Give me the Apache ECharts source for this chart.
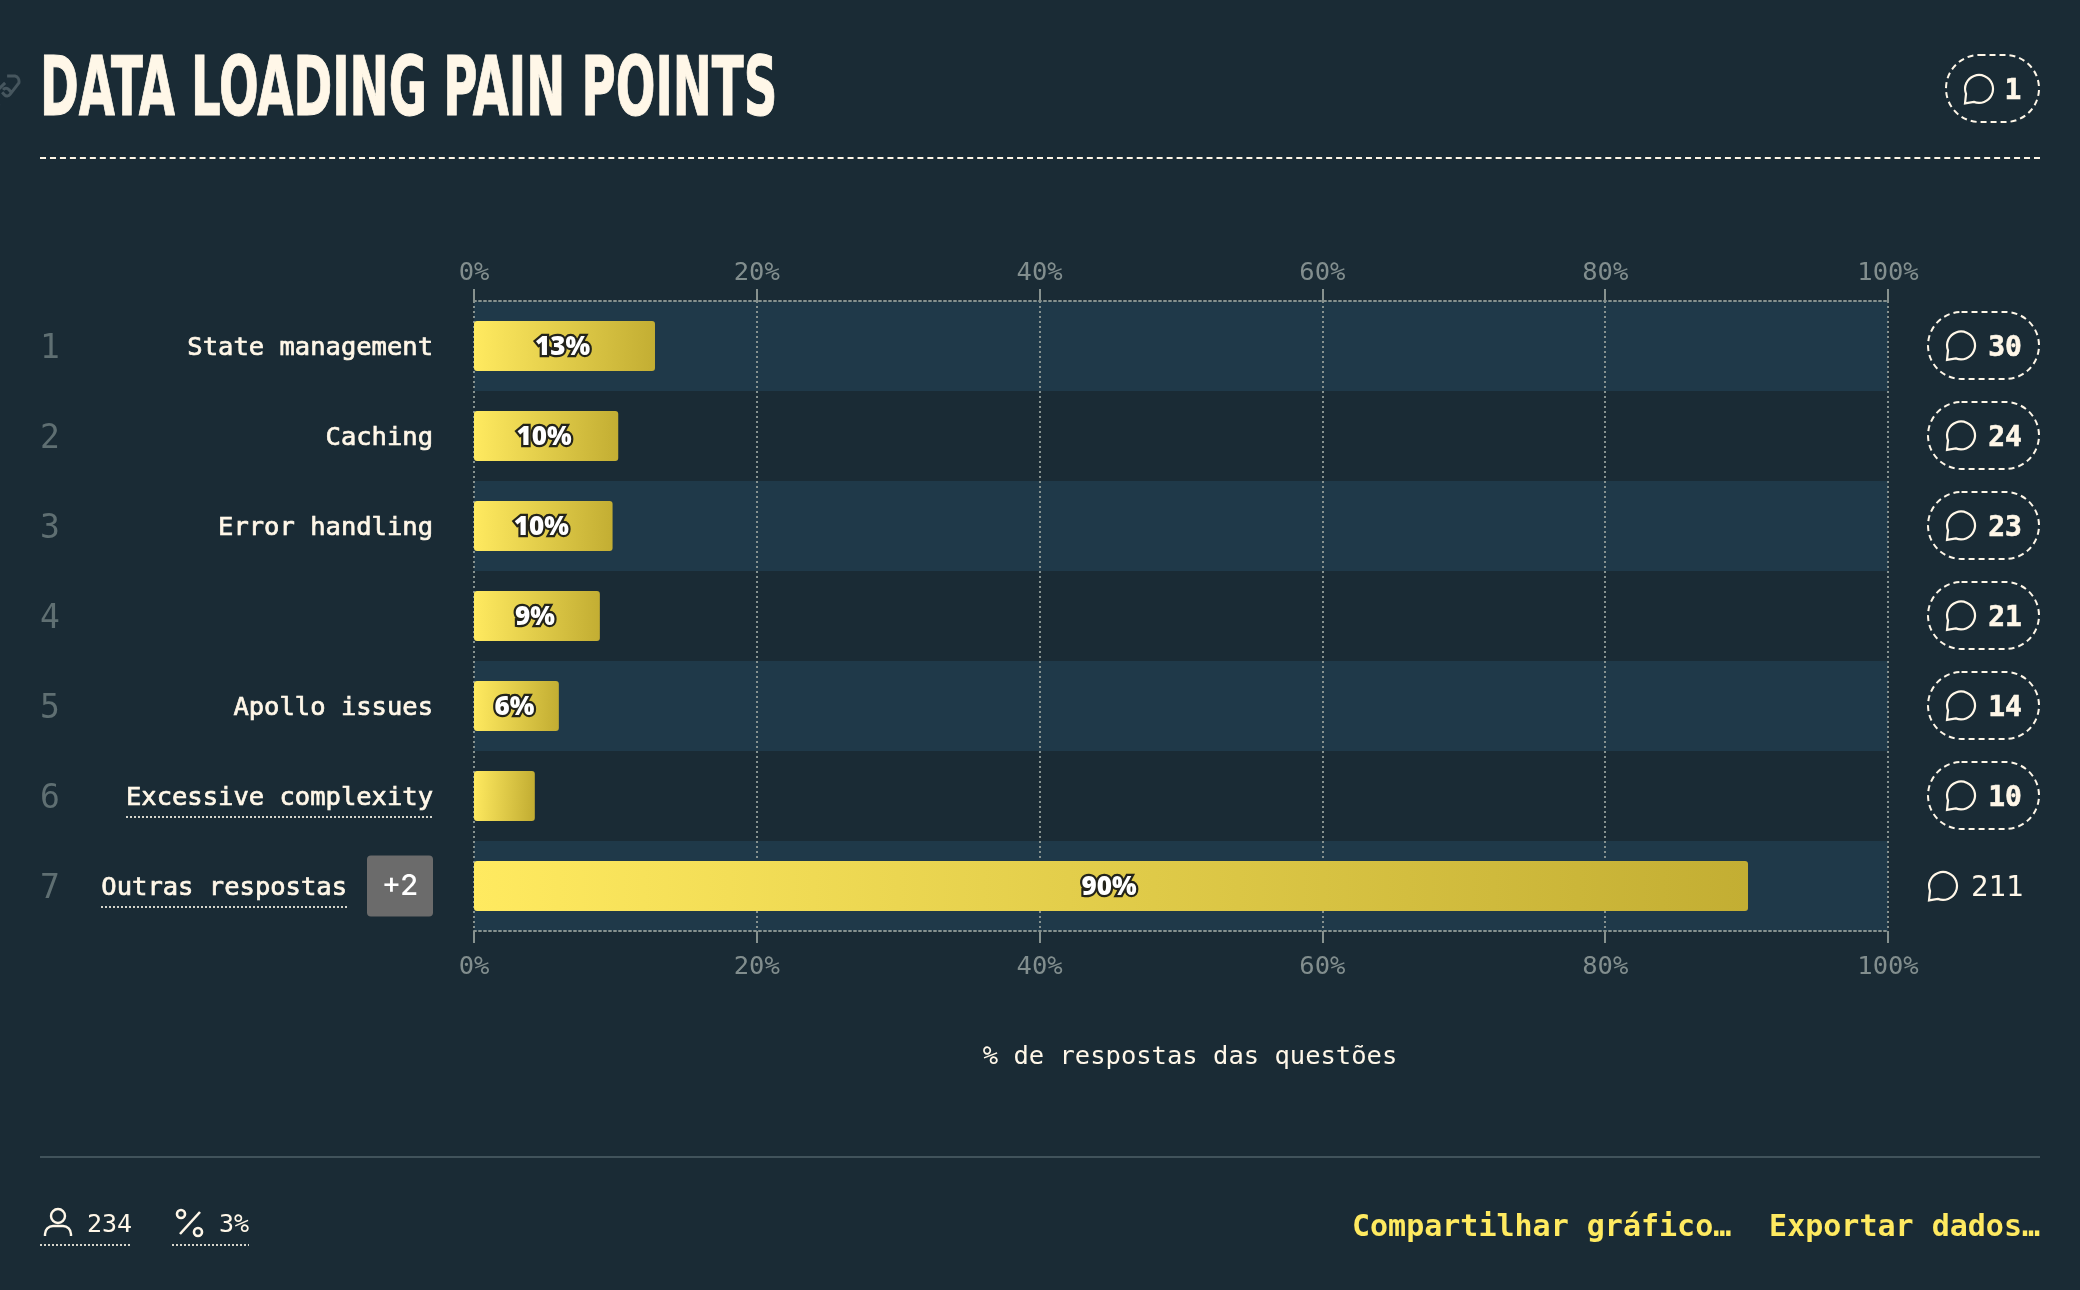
<!DOCTYPE html>
<html><head><meta charset="utf-8">
<style>html,body{margin:0;padding:0;background:#1a2b35}#c{width:2080px;height:1290px}</style>
<script src="https://cdn.jsdelivr.net/npm/echarts@6/dist/echarts.min.js"></script>
</head><body><div id="c"></div>
<script>
const chartTitle = 'DATA LOADING PAIN POINTS';
const categories = ['State management','Caching','Error handling','','Apollo issues','Excessive complexity','Outras respostas'];
const ranks = ['1','2','3','4','5','6','7'];
const shareValues = [12.8,10.2,9.8,8.9,6.0,4.3,90.1];
const barLabels = ['13%','10%','10%','9%','6%','','90%'];
const commentCounts = [30,24,23,21,14,10,211];
const badges = ['','','','','','','+2'];
const axisName = '% de respostas das questões';
const headerComments = '1';
const respondents = '234';
const respondentShare = '3%';
const footerActions = ['Compartilhar gráfico…','Exportar dados…'];

const BG='#1a2b35', BAND='#1f3949', CREAM='#fff7e8', GRAY='#87928f', YEL='#ffea60';
const MONO='"DejaVu Sans Mono"', SANS='"Inter"';
const BUBBLE='M-12.6 5 A13.6 13.6 0 1 1 -5 12.7 L-13.6 14.2 Z';

function bubble(cx,cy){return {type:'path',shape:{pathData:BUBBLE,x:cx-14,y:cy-14,width:28,height:28.4,layout:'cover'},style:{fill:'none',stroke:CREAM,lineWidth:2.2}};}
function txt(text,x,y,font,fill,align,extra){return {type:'text',style:Object.assign({text,x,y,font,fill,align:align||'center',verticalAlign:'middle'},extra||{})};}

const axisBase={type:'value',min:0,max:100,interval:20,
  axisLine:{show:true,lineStyle:{color:GRAY,width:2,type:[2,3]}},
  axisTick:{show:true,length:12,lineStyle:{color:GRAY,width:2}},
  axisLabel:{formatter:'{value}%',color:'#828e8e',fontFamily:MONO,fontSize:25.5}
};

const option={
  backgroundColor:BG,animation:false,
  grid:{left:474,right:192,top:301,bottom:359,containLabel:false},
  xAxis:[
    Object.assign({},axisBase,{position:'top',axisLabel:Object.assign({},axisBase.axisLabel,{margin:15}),
      splitLine:{show:true,lineStyle:{color:GRAY,width:2,type:[2,3]}}}),
    Object.assign({},axisBase,{position:'bottom',axisLabel:Object.assign({},axisBase.axisLabel,{margin:23}),
      splitLine:{show:false},name:axisName,nameLocation:'middle',nameGap:113,
      nameTextStyle:{color:CREAM,fontFamily:MONO,fontSize:25.5,padding:[0,0,0,18]}})
  ],
  yAxis:[
    {type:'category',inverse:true,data:categories,
      axisLine:{show:false},axisTick:{show:false},
      splitArea:{show:true,areaStyle:{color:[BAND,'rgba(0,0,0,0)']}},
      axisLabel:{margin:41,interval:0,color:CREAM,
        formatter:(v,i)=>badges[i]?`{name|${v}}{gap|}{badge|${badges[i]}}`:`{name|${v}}`,
        rich:{name:{color:CREAM,fontFamily:MONO,fontSize:25.5,fontWeight:500,textBorderColor:CREAM,textBorderWidth:0.7,padding:[5,0,0,0]},
          gap:{width:20},
          badge:{width:66,height:61,lineHeight:61,align:'center',backgroundColor:'#6b6b6b',borderRadius:4,color:'#fff',fontFamily:SANS,fontSize:29,fontWeight:500}}}},
    {type:'category',inverse:true,data:ranks,position:'left',
      axisLine:{show:false},axisTick:{show:false},
      axisLabel:{margin:434,align:'left',interval:0,formatter:v=>`{r|${v}}`,
        rich:{r:{color:'#5f6f72',fontFamily:MONO,fontSize:33,padding:[7,0,0,0]}}}}
  ],
  series:[
    {type:'bar',name:'share',xAxisIndex:0,yAxisIndex:0,barWidth:50,data:shareValues,
      itemStyle:{borderRadius:3,color:{type:'linear',x:0,y:0,x2:1,y2:0.06,colorStops:[{offset:0,color:'#ffea60'},{offset:1,color:'#c3ae33'}]}},
      label:{show:true,position:'inside',offset:[-2,1.5],formatter:p=>barLabels[p.dataIndex],color:'#fff',fontFamily:'"Open Sans"',fontWeight:800,fontSize:26,textBorderColor:'#23231a',textBorderWidth:4.5}},
    {type:'custom',name:'comments',xAxisIndex:0,yAxisIndex:0,silent:true,clip:false,
      data:commentCounts.map((c,i)=>[c,i]),
      renderItem:(params,api)=>{
        const i=api.value(1), y=api.coord([0,i])[1], c=api.value(0), kids=[];
        if(i<6){
          kids.push({type:'rect',shape:{x:1928,y:y-34,width:111,height:67,r:33.5},style:{fill:'none',stroke:CREAM,lineWidth:2,lineDash:[6,4]}});
          kids.push(bubble(1961,y-0.5));
          kids.push(txt(String(c),2005,y+3,'700 28px '+MONO,CREAM,'center',{stroke:CREAM,lineWidth:0.6}));
        }else{
          kids.push(bubble(1943,y));
          kids.push(txt(String(c),1971,y+2,'400 29px '+MONO,CREAM,'left'));
        }
        const line=(a,b,yy)=>({type:'line',shape:{x1:a,y1:yy,x2:b,y2:yy},style:{stroke:'#d5d5cc',lineWidth:2,lineDash:[2,2]}});
        if(i===5)kids.push(line(126,433,y+21));
        if(i===6)kids.push(line(101,347,y+21));
        return {type:'group',children:kids};
      }},
    {type:'custom',name:'decor',xAxisIndex:0,yAxisIndex:0,silent:true,clip:false,data:[[0,0]],
      renderItem:()=>({type:'group',children:[
        bubble(1979,89),
        {type:'path',shape:{pathData:'M-2 104 L-7 99 A4 4 0 0 1 -7 93 L4 84 M2 90 A4 4 0 0 1 8 90 L10 92 M6 78 L14 78 A5 5 0 0 1 18 84 L9 94 A4 4 0 0 1 3 94 L1 92',x:-7,y:76,width:26,height:30,layout:'cover'},style:{fill:'none',stroke:'#46565e',lineWidth:3}},
        {type:'path',shape:{pathData:'M45 1236 L45 1234 A8 8 0 0 1 53 1226 L63 1226 A8 8 0 0 1 71 1234 L71 1236',x:45,y:1226,width:26,height:10,layout:'cover'},style:{fill:'none',stroke:CREAM,lineWidth:2.4}}
      ]})}
  ],
  graphic:[
    {type:'text',x:40,y:94,scaleX:0.633,style:{text:chartTitle,font:'700 82px "DejaVu Sans Condensed"',fill:CREAM,stroke:CREAM,lineWidth:1,verticalAlign:'middle',align:'left'}},
    {type:'line',shape:{x1:40,y1:158,x2:2040,y2:158},style:{stroke:CREAM,lineWidth:2,lineDash:[6,3.97]}},
    {type:'rect',shape:{x:1946,y:55,width:93,height:67,r:33.5},style:{fill:'none',stroke:CREAM,lineWidth:2,lineDash:[6,4]}},
    txt(headerComments,2013,92,'700 28px '+MONO,CREAM,'center',{stroke:CREAM,lineWidth:0.6}),
    {type:'line',shape:{x1:40,y1:1157,x2:2040,y2:1157},style:{stroke:'#41535b',lineWidth:2}},
    {type:'circle',shape:{cx:58,cy:1216,r:7},style:{fill:'none',stroke:CREAM,lineWidth:2.4}},
    txt(respondents,87,1225,'400 25px '+MONO,CREAM,'left'),
    {type:'line',shape:{x1:40,y1:1245,x2:132,y2:1245},style:{stroke:'#d5d5cc',lineWidth:2,lineDash:[2,2]}},
    {type:'circle',shape:{cx:181,cy:1214,r:4},style:{fill:'none',stroke:CREAM,lineWidth:2.6}},
    {type:'circle',shape:{cx:198,cy:1232,r:4},style:{fill:'none',stroke:CREAM,lineWidth:2.6}},
    {type:'line',shape:{x1:180,y1:1234,x2:200,y2:1212},style:{stroke:CREAM,lineWidth:2.6}},
    txt(respondentShare,219,1225,'400 25px '+MONO,CREAM,'left'),
    {type:'line',shape:{x1:172,y1:1245,x2:249,y2:1245},style:{stroke:'#d5d5cc',lineWidth:2,lineDash:[2,2]}},
    txt(footerActions[0],1352,1228,'700 30px '+MONO,YEL,'left'),
    txt(footerActions[1],2040,1228,'700 30px '+MONO,YEL,'right')
  ]
};
const chart=echarts.init(document.getElementById('c'),null,{renderer:'canvas',width:2080,height:1290});
chart.setOption(option);
</script></body></html>
